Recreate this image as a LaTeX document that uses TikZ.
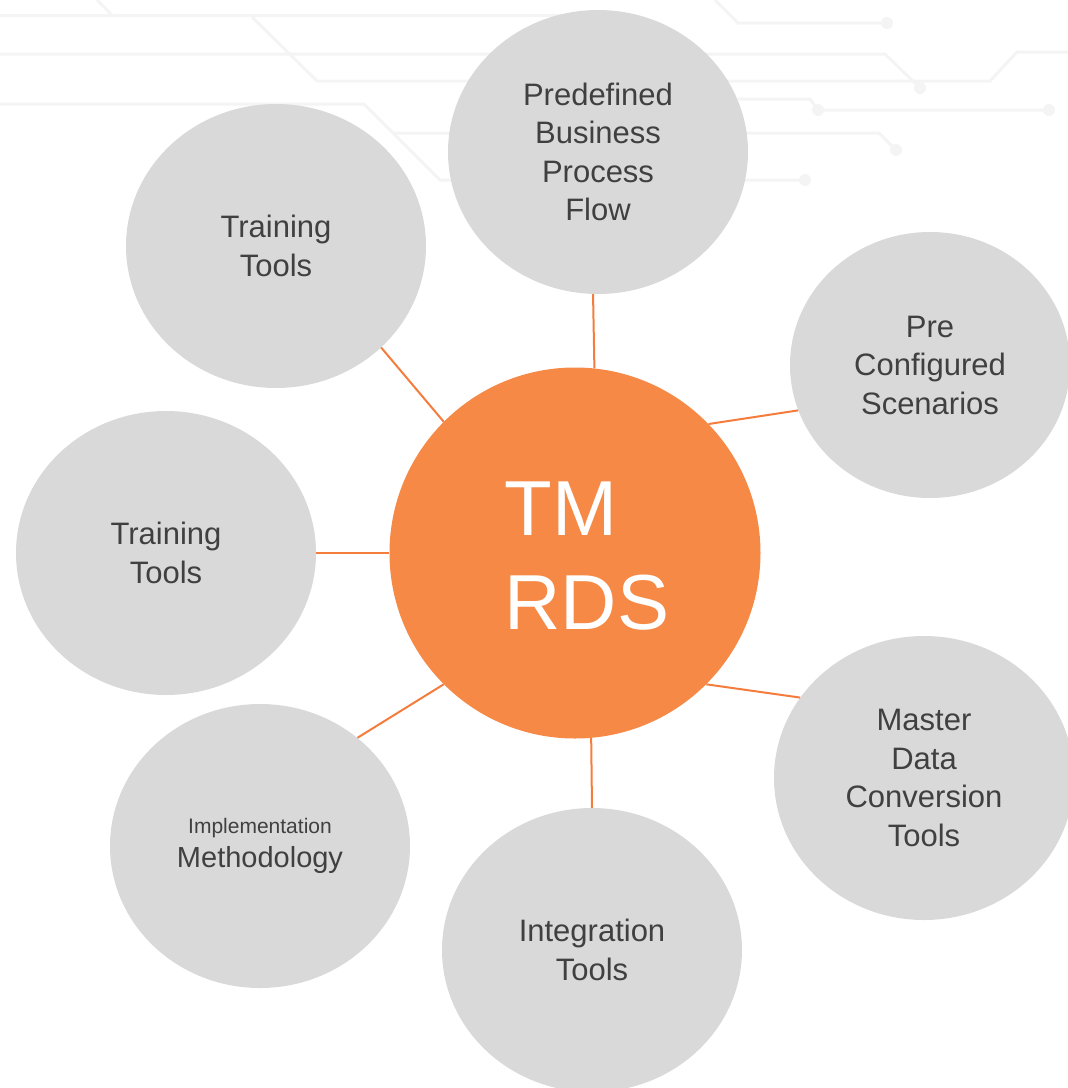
\documentclass[tikz,border=0pt]{standalone}
\usepackage{fontspec}
\setmainfont{Liberation Sans}
\usetikzlibrary{shapes.geometric}
\definecolor{bubblegrey}{HTML}{D9D9D9}
\definecolor{textgrey}{HTML}{404040}
\definecolor{huborange}{HTML}{F58945}
\definecolor{linkorange}{HTML}{F47C3C}
\definecolor{tracegrey}{HTML}{F4F4F4}
\begin{document}
\begin{tikzpicture}[x=1pt,y=-1pt,align=center,
    bubble/.style={ellipse,fill=bubblegrey,text=textgrey,inner sep=0pt,
      minimum width=300pt,minimum height=284pt,font=\fontsize{31}{38.5}\selectfont},
    hub/.style={circle,fill=huborange,inner sep=0pt,minimum size=371pt},
    link/.style={draw=linkorange,line width=2pt},
    trace/.style={draw=tracegrey,line width=3pt},
    pad/.style={fill=tracegrey}]
        \useasboundingbox (0,0) rectangle (1068,1088);
        \clip (0,0) rectangle (1068,1088);
        % circuit traces in the background
        \draw[trace] (0,15) -- (590,15);
        \draw[trace] (97,0) -- (112,15);
        \draw[trace] (715,0) -- (738,23) -- (887,23);
        \draw[trace] (252,17) -- (317,81) -- (990,81) -- (1017,52) -- (1068,52);
        \draw[trace] (0,54) -- (885,54) -- (920,88);
        \draw[trace] (0,104) -- (364,104) -- (440,180) -- (805,180);
        \draw[trace] (393,133) -- (879,133) -- (896,150);
        \draw[trace] (738,99) -- (810,99) -- (818,110) -- (1049,110);
        \fill[pad] (887,23) circle (6pt);
        \fill[pad] (920,88) circle (6pt);
        \fill[pad] (805,180) circle (6pt);
        \fill[pad] (896,150) circle (6pt);
        \fill[pad] (818,110) circle (6pt);
        \fill[pad] (1049,110) circle (6pt);
        % hub and bubbles
        \node[hub](n0) at (575,553) {};
        \node[text=white,align=left,font=\fontsize{78}{94}\selectfont](n0txt) at (587,556) {TM\\RDS};
        \node[bubble](n1) at (598,152) {Predefined\\Business\\Process\\Flow};
        \node[bubble,minimum width=280pt,minimum height=266pt](n2) at (930,365) {Pre\\Configured\\Scenarios};
        \node[bubble](n3) at (924,778) {Master\\Data\\Conversion\\Tools};
        \node[bubble](n4) at (592,950) {Integration\\Tools};
        \node[bubble,font=\fontsize{29}{34}\selectfont](n5) at (260,846) {{\fontsize{21}{26}\selectfont Implementation}\\Methodology};
        \node[bubble](n6) at (166,553) {Training\\Tools};
        \node[bubble](n7) at (276,246) {Training\\Tools};
        % spokes
        \draw[link](n1.-92.4) -- (n0.84.7);
        \draw[link](n2.199) -- (n0.44);
        \draw[link](n3.147) -- (n0.-45);
        \draw[link](n4.90) -- (n0.-85);
        \draw[link](n5.48) -- (n0.-135);
        \draw[link](n6.0) -- (n0.180);
        \draw[link](n7.-44) -- (n0.135);
    \end{tikzpicture}
\end{document}
